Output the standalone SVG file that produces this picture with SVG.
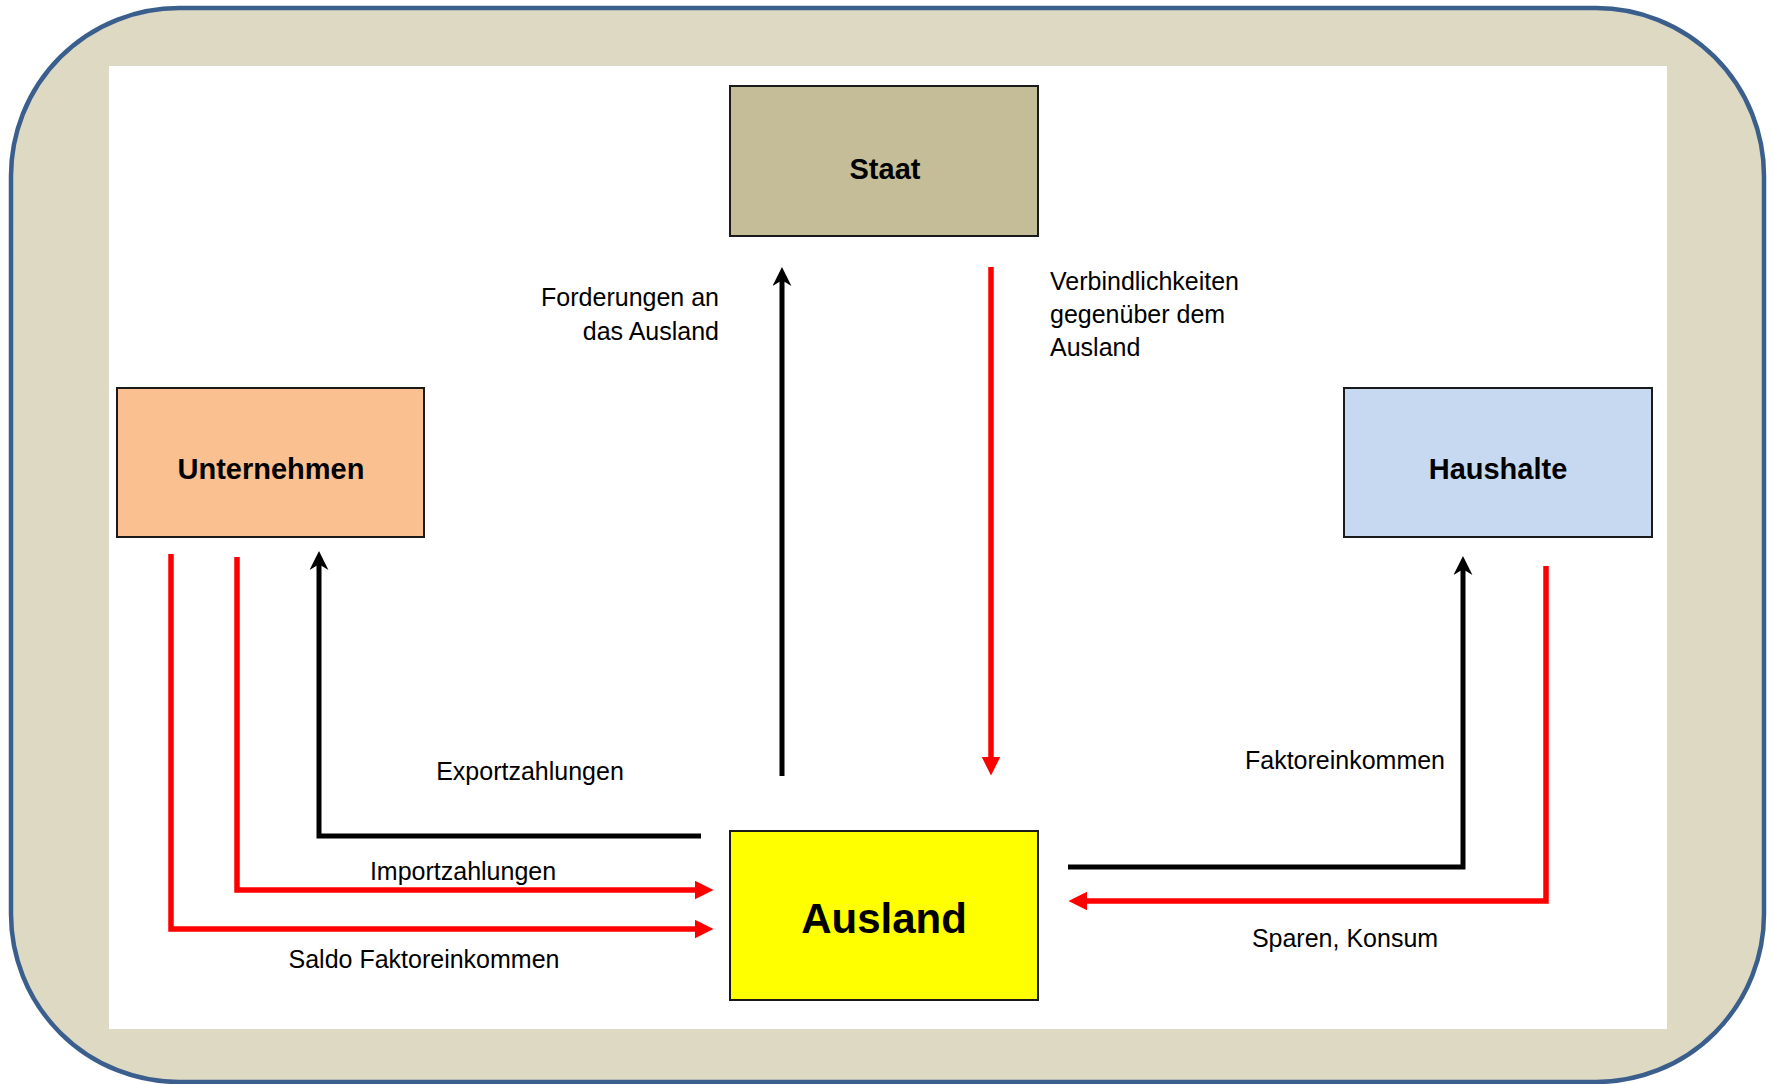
<svg xmlns="http://www.w3.org/2000/svg" width="1774" height="1084" viewBox="0 0 1774 1084">
  <style>
    .node { stroke: #1a1a1a; stroke-width: 2; }
    .nlabel { font-family: "Liberation Sans", Arial, sans-serif; font-weight: bold; font-size: 29px; fill: #000; text-anchor: middle; }
    .elabel { font-family: "Liberation Sans", Arial, sans-serif; font-size: 25px; fill: #000; }
    .blk { fill: none; stroke: #000; stroke-width: 5; stroke-linejoin: miter; marker-end: url(#arrowBlack); }
    .red { fill: none; stroke: #FF0000; stroke-width: 5.5; stroke-linejoin: miter; marker-end: url(#arrowRed); }
  </style>
  <defs>
    <marker id="arrowBlack" markerUnits="userSpaceOnUse" markerWidth="20" markerHeight="20" viewBox="0 0 18 18" refX="8" refY="8.5" orient="auto">
      <path d="M0,0 L17,8.5 L0,17 L5,8.5 z" fill="#000"/>
    </marker>
    <marker id="arrowRed" markerUnits="userSpaceOnUse" markerWidth="20" markerHeight="20" viewBox="0 0 19 19" refX="8" refY="9" orient="auto">
      <path d="M0,0 L18,9 L0,18 z" fill="#FF0000"/>
    </marker>
  </defs>

  <g id="frame">
    <rect x="11" y="8" width="1753" height="1074" rx="168" ry="168" fill="#DDD9C3" stroke="#3B5F8C" stroke-width="4.5"/>
    <rect x="109" y="66" width="1558" height="963" fill="#FFFFFF"/>
  </g>

  <g id="connectors">
    <path class="blk" d="M701,836 L319,836 L319,561"/>
    <path class="red" d="M237,557 L237,890 L703,890"/>
    <path class="red" d="M171,554 L171,929 L703,929"/>
    <path class="blk" d="M782,776 L782,277"/>
    <path class="red" d="M991,267 L991,765"/>
    <path class="blk" d="M1068,867 L1463,867 L1463,566"/>
    <path class="red" d="M1546,566 L1546,901 L1079,901"/>
  </g>

  <g id="labels">
    <text class="elabel" x="719" y="306" text-anchor="end">Forderungen an</text>
    <text class="elabel" x="719" y="340" text-anchor="end">das Ausland</text>
    <text class="elabel" x="1050" y="290">Verbindlichkeiten</text>
    <text class="elabel" x="1050" y="323">gegenüber dem</text>
    <text class="elabel" x="1050" y="356">Ausland</text>
    <text class="elabel" x="530" y="780" text-anchor="middle">Exportzahlungen</text>
    <text class="elabel" x="463" y="880" text-anchor="middle">Importzahlungen</text>
    <text class="elabel" x="424" y="968" text-anchor="middle">Saldo Faktoreinkommen</text>
    <text class="elabel" x="1345" y="769" text-anchor="middle">Faktoreinkommen</text>
    <text class="elabel" x="1345" y="947" text-anchor="middle">Sparen, Konsum</text>
  </g>

  <g id="staat">
    <rect class="node" x="730" y="86" width="308" height="150" fill="#C4BD97"/>
    <text class="nlabel" x="885" y="179">Staat</text>
  </g>
  <g id="unternehmen">
    <rect class="node" x="117" y="388" width="307" height="149" fill="#FAC090"/>
    <text class="nlabel" x="271" y="479">Unternehmen</text>
  </g>
  <g id="haushalte">
    <rect class="node" x="1344" y="388" width="308" height="149" fill="#C6D9F1"/>
    <text class="nlabel" x="1498" y="479">Haushalte</text>
  </g>
  <g id="ausland">
    <rect class="node" x="730" y="831" width="308" height="169" fill="#FFFF00"/>
    <text class="nlabel" x="884" y="933" style="font-size:42px">Ausland</text>
  </g>
</svg>
